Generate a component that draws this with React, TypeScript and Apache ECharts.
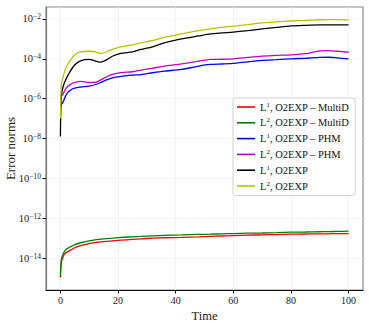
import React, { useEffect, useRef } from "react";
import * as echarts from "echarts";

const time = [0, 0.3, 1, 2, 3.5, 5, 7, 10, 12, 14, 16, 18, 21, 25, 28, 32, 36, 42, 48, 52, 56, 60, 65, 70, 75, 80, 85, 90, 93, 96, 100];

const l1MultiD = [1.07e-15, 5.6e-15, 1.26e-14, 1.9e-14, 2.5e-14, 3.3e-14, 4.2e-14, 5.4e-14, 6.0e-14, 6.5e-14, 6.9e-14, 7.4e-14, 7.9e-14, 8.7e-14, 9.3e-14, 1.0e-13, 1.05e-13, 1.1e-13, 1.17e-13, 1.23e-13, 1.29e-13, 1.35e-13, 1.41e-13, 1.48e-13, 1.51e-13, 1.58e-13, 1.62e-13, 1.66e-13, 1.66e-13, 1.7e-13, 1.7e-13];
const l2MultiD = [1.41e-15, 7.9e-15, 1.7e-14, 2.8e-14, 3.7e-14, 4.8e-14, 5.9e-14, 7.4e-14, 8.3e-14, 8.9e-14, 9.5e-14, 1.0e-13, 1.1e-13, 1.17e-13, 1.23e-13, 1.32e-13, 1.38e-13, 1.45e-13, 1.55e-13, 1.58e-13, 1.66e-13, 1.7e-13, 1.78e-13, 1.82e-13, 1.9e-13, 2.0e-13, 2.04e-13, 2.1e-13, 2.14e-13, 2.2e-13, 2.24e-13];
const l1PHM = [3.16e-7, 5.0e-7, 7.1e-7, 1.58e-6, 2.75e-6, 3.4e-6, 3.8e-6, 4.3e-6, 5.0e-6, 6.5e-6, 8.7e-6, 1.1e-5, 1.32e-5, 1.51e-5, 1.62e-5, 2.0e-5, 2.4e-5, 2.95e-5, 4.3e-5, 5.2e-5, 5.5e-5, 5.9e-5, 7.1e-5, 8.3e-5, 9.1e-5, 1.0e-4, 1.07e-4, 1.17e-4, 1.2e-4, 1.12e-4, 1.0e-4];
const l2PHM = [7.9e-7, 1.26e-6, 1.78e-6, 3.4e-6, 5.2e-6, 6.6e-6, 7.4e-6, 6.5e-6, 6.6e-6, 8.7e-6, 1.26e-5, 1.66e-5, 2.04e-5, 2.24e-5, 2.7e-5, 3.4e-5, 4.3e-5, 5.6e-5, 7.6e-5, 9.3e-5, 9.5e-5, 1.0e-4, 1.17e-4, 1.35e-4, 1.48e-4, 1.58e-4, 1.82e-4, 2.5e-4, 2.6e-4, 2.4e-4, 2.14e-4];
const l1O2EXP = [1.26e-8, 1.35e-6, 4.3e-6, 1.0e-5, 2.5e-5, 5.0e-5, 7.9e-5, 9.3e-5, 7.9e-5, 6.8e-5, 8.9e-5, 1.35e-4, 1.86e-4, 2.24e-4, 2.95e-4, 4.0e-4, 6.3e-4, 1.0e-3, 1.41e-3, 1.78e-3, 2.0e-3, 2.2e-3, 2.6e-3, 3.16e-3, 3.8e-3, 4.5e-3, 4.8e-3, 5.0e-3, 5.0e-3, 5.0e-3, 5.0e-3];
const l2O2EXP = [1.0e-7, 4.5e-6, 1.35e-5, 3.8e-5, 8.9e-5, 1.58e-4, 2.2e-4, 2.4e-4, 2.24e-4, 1.86e-4, 2.2e-4, 2.95e-4, 4.0e-4, 5.0e-4, 6.3e-4, 8.3e-4, 1.2e-3, 1.78e-3, 2.6e-3, 3.2e-3, 3.8e-3, 4.4e-3, 5.2e-3, 6.3e-3, 7.2e-3, 7.9e-3, 8.5e-3, 9.1e-3, 9.3e-3, 9.3e-3, 8.9e-3];

const xTicks = [0, 20, 40, 60, 80, 100];
// decade exponents shown on the logarithmic y axis
const yTickExponents = [-14, -12, -10, -8, -6, -4, -2];

const seriesDefs = [
  { name: "L1MultiD", norm: "1", label: ", O2EXP – MultiD", data: l1MultiD, color: "#ff0000" },
  { name: "L2MultiD", norm: "2", label: ", O2EXP – MultiD", data: l2MultiD, color: "#008000" },
  { name: "L1PHM", norm: "1", label: ", O2EXP – PHM", data: l1PHM, color: "#0000ff" },
  { name: "L2PHM", norm: "2", label: ", O2EXP – PHM", data: l2PHM, color: "#bf00bf" },
  { name: "L1O2EXP", norm: "1", label: ", O2EXP", data: l1O2EXP, color: "#000000" },
  { name: "L2O2EXP", norm: "2", label: ", O2EXP", data: l2O2EXP, color: "#bfbf00" },
];

const SERIF = "'Liberation Serif', 'DejaVu Serif', serif";

export default function App() {
  const ref = useRef<HTMLDivElement>(null);
  useEffect(() => {
    if (!ref.current) return;
    const chart = echarts.init(ref.current, null, { renderer: "svg" });
    const option: any = {
      animation: false,
      backgroundColor: "#ffffff",
      grid: {
        left: 46, top: 7, right: 6, bottom: 39,
        containLabel: false, outerBoundsMode: "none",
        show: true, borderColor: "#8a8a8a", borderWidth: 1.2,
      },
      legend: {
        orient: "vertical",
        left: 233,
        top: 98,
        padding: [3, 6, 4, 4],
        itemGap: 4.3,
        itemWidth: 18,
        itemHeight: 1.6,
        icon: "rect",
        backgroundColor: "#ffffff",
        borderColor: "#d0d0d0",
        borderWidth: 1,
        borderRadius: 3,
        data: seriesDefs.map((s) => s.name),
        formatter: (name: string) => {
          const d = seriesDefs.find((s) => s.name === name)!;
          return `{m|L}{s|${d.norm}}{m|${d.label}}`;
        },
        textStyle: {
          fontFamily: SERIF,
          color: "#111",
          rich: {
            m: { fontFamily: SERIF, fontSize: 10.5, lineHeight: 12, color: "#111" },
            s: { fontFamily: SERIF, fontSize: 7, lineHeight: 6, verticalAlign: "top", color: "#111" },
          },
        },
      },
      xAxis: {
        type: "value",
        min: -5,
        max: 105,
        name: "Time",
        nameLocation: "middle",
        nameGap: 19,
        nameMoveOverlap: false,
        nameTextStyle: { fontFamily: SERIF, fontSize: 12.5, color: "#222" },
        axisLine: { show: true, onZero: false, lineStyle: { color: "#111", width: 1.2 } },
        axisTick: { show: true, inside: false, length: 3.5, customValues: xTicks, lineStyle: { color: "#111", width: 1 } },
        axisLabel: { customValues: xTicks, margin: 5, fontFamily: SERIF, fontSize: 10, color: "#222" },
        splitLine: { show: true, lineStyle: { color: "#f1f1f1", width: 0.8 } },
      },
      yAxis: {
        type: "value",
        min: -15.6,
        max: -1.4,
        name: "Error norms",
        nameLocation: "middle",
        nameGap: 29,
        nameMoveOverlap: false,
        nameTextStyle: { fontFamily: SERIF, fontSize: 13, color: "#222" },
        axisLine: { show: true, onZero: false, lineStyle: { color: "#777", width: 1.2 } },
        axisTick: { show: true, inside: false, length: 3.5, customValues: yTickExponents, lineStyle: { color: "#111", width: 1 } },
        axisLabel: {
          customValues: yTickExponents,
          margin: 5,
          formatter: (e: number) => `{b|10}{s|−${Math.abs(Math.round(e))}}`,
          rich: {
            b: { fontFamily: SERIF, fontSize: 10.5, lineHeight: 12, color: "#222" },
            s: { fontFamily: SERIF, fontSize: 7.5, lineHeight: 7, verticalAlign: "top", color: "#222" },
          },
        },
        splitLine: { show: true, lineStyle: { color: "#f1f1f1", width: 0.8 } },
      },
      series: seriesDefs.map((s) => ({
        name: s.name,
        type: "line",
        data: time.map((t, i) => [t, Math.log10(s.data[i])]),
        showSymbol: false,
        symbol: "none",
        smooth: 0.25,
        lineStyle: { color: s.color, width: 1.3 },
        itemStyle: { color: s.color },
      })),
    };
    chart.setOption(option);
    return () => chart.dispose();
  }, []);
  return <div ref={ref} style={{ position: "fixed", left: 0, top: 0, width: 369, height: 329 }} />;
}
